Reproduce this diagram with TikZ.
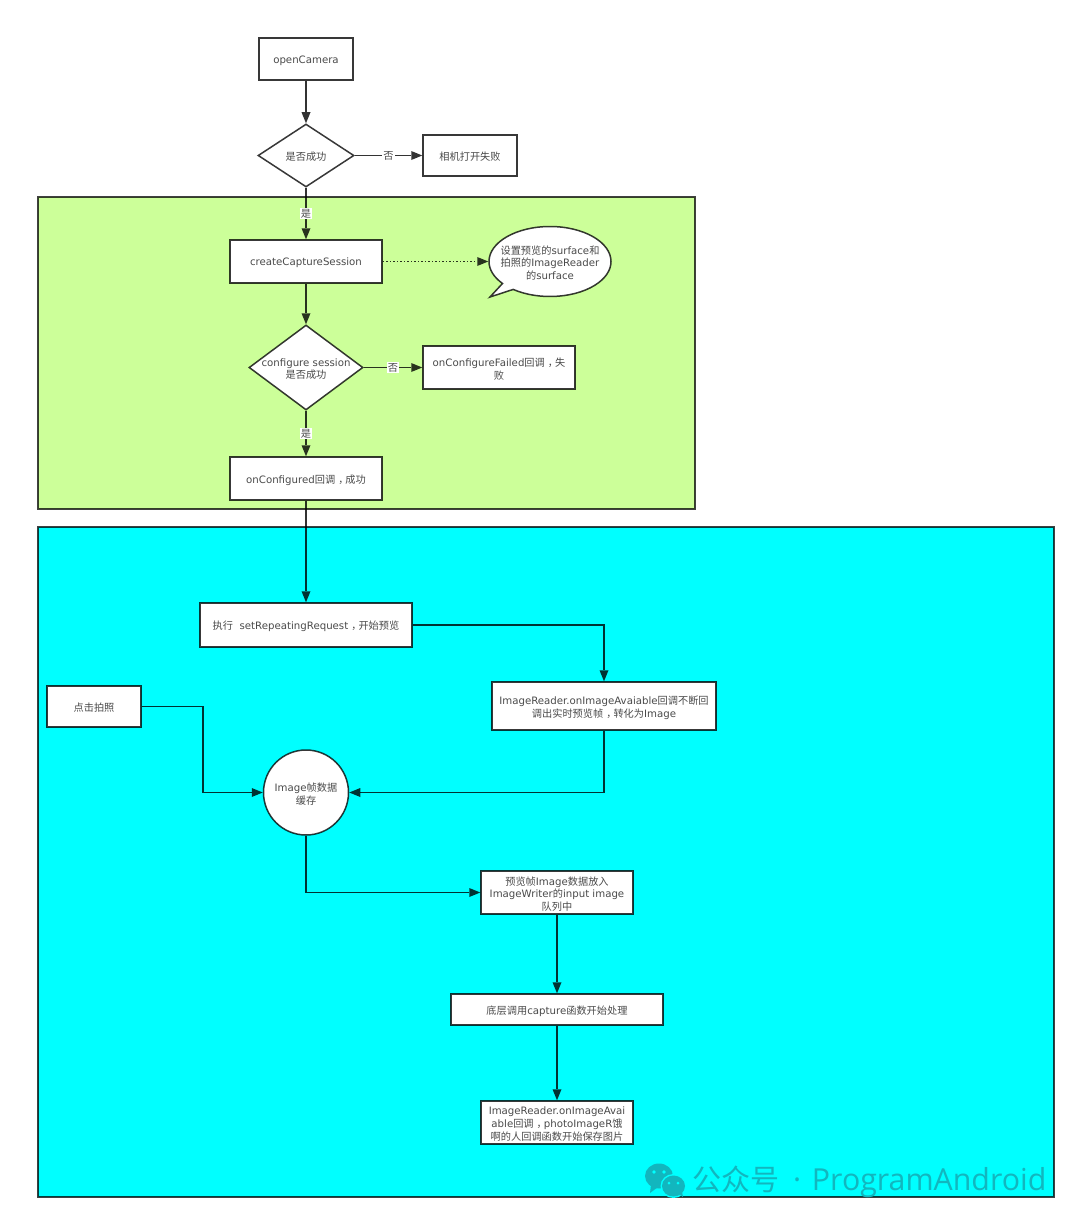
\documentclass[tikz,border=0pt]{standalone}
\usepackage{fontspec}
\setmainfont{DejaVu Sans}
\newfontfamily\cjk{Noto Sans CJK SC}
\newfontfamily\wmfont{Open Sans}
\usetikzlibrary{arrows.meta,shapes.geometric,shapes.callouts}
\newcommand{\zh}[1]{{\cjk #1}}
\newcommand{\zc}{{\cjk\kern.3em，\kern-.3em}}
\definecolor{txt}{HTML}{4A4A4A}
\definecolor{regiongreen}{HTML}{CCFF99}
\definecolor{regioncyan}{HTML}{00FFFF}
\definecolor{wmcol}{HTML}{12B6BE}
\tikzset{
  x=1pt,y=-1pt,
  basefont/.style={font=\fontsize{10.2}{12.8}\selectfont,text=txt},
  region/.style={draw=black,draw opacity=.75,line width=1.5pt},
  box/.style={draw=black,draw opacity=.78,line width=1.5pt,fill=white,inner sep=0pt,align=center,basefont,text depth=0pt},
  dec/.style={shape=diamond,draw=black,draw opacity=.78,line width=1.5pt,fill=white,inner sep=0pt},
  inner/.style={align=center,basefont,yshift=-1.5pt},
  conn/.style={draw=black,draw opacity=.8,fill opacity=.8,line width=1.6pt,-{Triangle[length=11pt,width=9pt,fill=black,line width=0pt]}},
  lab/.style={fill=white,inner sep=1pt,basefont,opacity=1},
}
\begin{document}
\begin{tikzpicture}
\useasboundingbox (0,0) rectangle (1080,1223);
\fill[white] (0,0) rectangle (1080,1223);
% regions
\path[region,fill=regiongreen] (38,197) rectangle (695,509);
\path[region,fill=regioncyan] (38,527) rectangle (1054,1197);
% nodes
\node[box,minimum width=94,minimum height=42,label={[inner]center:{openCamera}}] (open) at (306,59) {};
\node[dec,minimum width=96,minimum height=63,label={[inner]center:{\zh{是否成功}}}] (d1) at (306,155.5) {};
\node[box,minimum width=94,minimum height=41,label={[inner]center:{\zh{相机打开失败}}}] (fail1) at (470,155.5) {};
\node[box,minimum width=152,minimum height=43,label={[inner]center:{createCaptureSession}}] (create) at (306,261.5) {};
\node[shape=ellipse callout,draw=black,draw opacity=.78,line width=1.5pt,fill=white,inner sep=0pt,
  minimum width=122,minimum height=70,callout absolute pointer={(490,297)},callout pointer arc=14,
  label={[inner]center:{\zh{设置预览的}surface\zh{和}\\\zh{拍照的}ImageReader\\\zh{的}surface}}] (note) at (550,261.5) {};
\node[dec,minimum width=114,minimum height=85,label={[inner]center:{configure session\\\zh{是否成功}}}] (d2) at (306,367.5) {};
\node[box,minimum width=152,minimum height=43,label={[inner]center:{onConfigureFailed\zh{回调}\zc\zh{失}\\\zh{败}}}] (fail2) at (499,367.5) {};
\node[box,minimum width=152,minimum height=43,label={[inner]center:{onConfigured\zh{回调}\zc\zh{成功}}}] (ok) at (306,478.5) {};
\node[box,minimum width=212,minimum height=44,label={[inner]center:{\zh{执行} \ setRepeatingRequest\zc\zh{开始预览}}}] (repeat) at (306,625) {};
\node[box,minimum width=224,minimum height=48,label={[inner]center:{ImageReader.onImageAvaiable\zh{回调不断回}\\\zh{调出实时预览帧}\zc\zh{转化为}Image}}] (reader) at (604,706) {};
\node[box,minimum width=94,minimum height=41,label={[inner]center:{\zh{点击拍照}}}] (click) at (94,706.5) {};
\node[shape=circle,draw=black,draw opacity=.78,line width=1.5pt,fill=white,inner sep=0pt,minimum size=85,label={[inner]center:{Image\zh{帧数据}\\\zh{缓存}}}] (cache) at (306,792.5) {};
\node[box,minimum width=152,minimum height=43,label={[inner]center:{\zh{预览帧}Image\zh{数据放入}\\ImageWriter\zh{的}input image\\\zh{队列中}}}] (queue) at (557,892.5) {};
\node[box,minimum width=212,minimum height=31,label={[inner]center:{\zh{底层调用}capture\zh{函数开始处理}}}] (capture) at (557,1009.5) {};
\node[box,minimum width=152,minimum height=43,label={[inner]center:{ImageReader.onImageAvai\\able\zh{回调}\zc photoImageR\zh{饿}\\\zh{啊的人回调函数开始保存图片}}}] (save) at (557,1122.5) {};
\coordinate (clickbend) at (203,706.5);
% connectors
\draw[conn] (open) -- (d1);
\draw[conn] (d1) -- node[lab,pos=.5]{\zh{否}} (fail1);
\draw[conn] (d1) -- node[lab,pos=.5]{\zh{是}} (create);
\draw[conn,dash pattern=on 1.5pt off 2pt] (create) -- (note);
\draw[conn] (create) -- (d2);
\draw[conn] (d2) -- node[lab,pos=.5]{\zh{否}} (fail2);
\draw[conn] (d2) -- node[lab,pos=.5]{\zh{是}} (ok);
\draw[conn] (ok) -- (repeat);
\draw[conn] (repeat.east) -| (reader.north);
\draw[conn] (reader.south) |- (cache.east);
\draw[conn] (click.east) -- (clickbend) |- (cache.west);
\draw[conn] (cache.south) |- (queue.west);
\draw[conn] (queue) -- (capture);
\draw[conn] (capture) -- (save);
% watermark
\fill[wmcol] (659,1176) ellipse [x radius=14,y radius=12.5];
\fill[wmcol] (651,1185) -- (650,1193) -- (658,1187) -- cycle;
\fill[regioncyan] (673.5,1186) ellipse [x radius=13,y radius=12];
\fill[wmcol] (673.5,1186) ellipse [x radius=11.5,y radius=10.5];
\fill[wmcol] (679,1194) -- (683,1197) -- (682,1192) -- cycle;
\fill[regioncyan] (654,1172) circle (1.8) (664,1172) circle (1.8) (669,1183) circle (1.5) (678,1183) circle (1.5);
\node[anchor=west,inner sep=0pt,text=wmcol,font=\fontsize{29}{32}\selectfont] (wm) at (692,1182) {\zh{公众号}\hspace{6pt}{\wmfont\fontsize{30.3}{32}\selectfont\ · \hspace{3pt}ProgramAndroid}};
\end{tikzpicture}
\end{document}
